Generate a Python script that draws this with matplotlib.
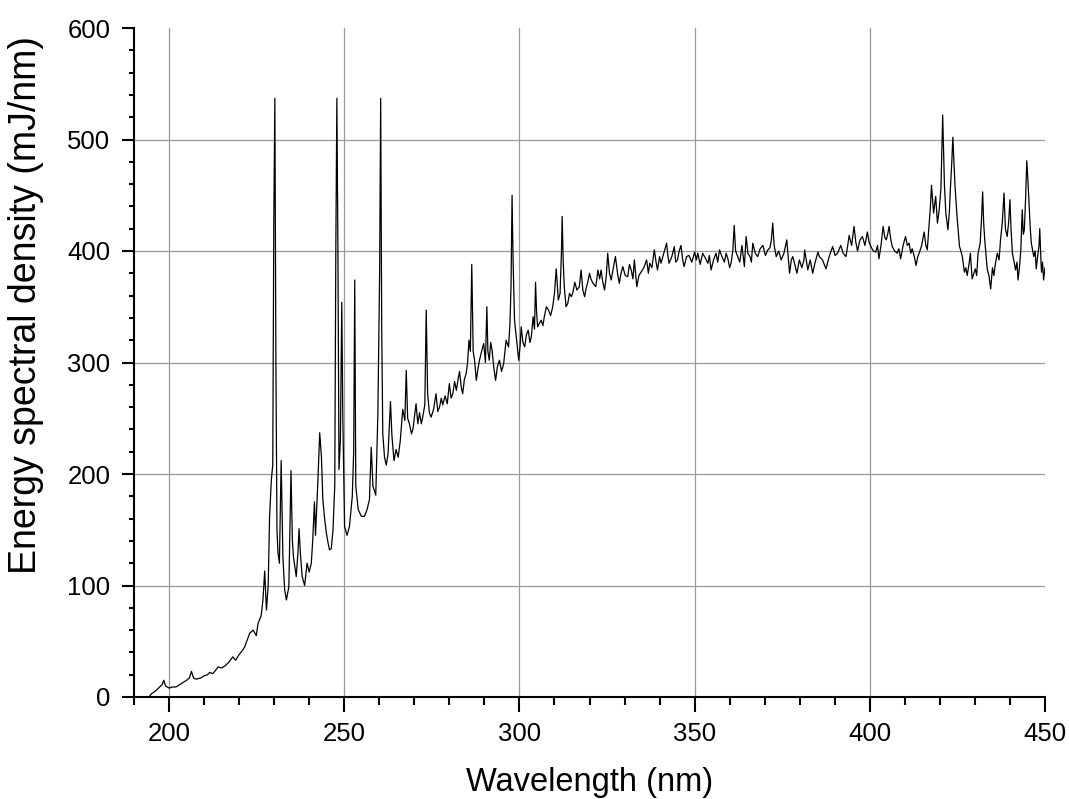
import matplotlib
matplotlib.use("Agg")
import matplotlib.pyplot as plt
from matplotlib.ticker import MultipleLocator

plt.rcParams['font.family'] = ['Liberation Sans', 'DejaVu Sans']

wavelength = [
    194.3, 195.0, 196.0, 197.0, 198.0, 198.5, 199.0, 200.0, 201.0, 202.0,
    203.0, 204.0, 205.0, 205.8, 206.4, 207.0, 207.8, 209.0, 210.0, 211.0,
    211.6, 212.5, 213.3, 214.0, 215.0, 216.0, 217.0, 218.2, 219.0, 220.0,
    221.0, 221.6, 222.3, 223.0, 224.0, 224.9, 225.4, 226.3, 226.8, 227.3,
    227.8, 228.3, 228.7, 229.2, 229.6, 229.9, 230.2, 230.5, 230.8, 231.1,
    231.5, 232.0, 232.5, 233.0, 233.5, 234.2, 234.8, 235.2, 235.5, 236.0,
    236.3, 236.8, 237.1, 237.5, 238.0, 238.7, 239.4, 240.0, 240.6, 241.0,
    241.5, 241.8, 242.5, 243.0, 243.5, 243.9, 244.4, 244.9, 245.4, 245.8,
    246.3, 246.8, 247.3, 247.6, 247.9, 248.2, 248.5, 248.9, 249.3, 249.6,
    250.1, 250.8, 251.5, 252.3, 252.7, 253.0, 253.3, 254.0, 254.9, 255.8,
    256.5, 257.2, 257.7, 258.2, 259.0, 259.6, 260.1, 260.4, 260.7, 261.0,
    261.5, 262.0, 262.5, 263.2, 263.6, 264.2, 264.8, 265.4, 266.0, 266.7,
    267.3, 267.7, 268.1, 268.6, 269.2, 269.6, 270.0, 270.5, 271.0, 271.5,
    272.0, 272.4, 273.0, 273.4, 273.8, 274.3, 274.8, 275.5, 276.2, 276.7,
    277.2, 277.7, 278.1, 278.8, 279.4, 280.0, 280.5, 281.0, 281.5, 282.0,
    282.5, 282.9, 283.4, 283.8, 284.3, 284.8, 285.2, 285.6, 286.0, 286.4,
    286.8, 287.2, 287.7, 288.2, 288.6, 289.2, 289.8, 290.3, 290.7, 291.0,
    291.4, 291.8, 292.2, 292.7, 293.2, 293.7, 294.3, 294.9, 295.5, 296.2,
    296.9, 297.3, 297.6, 297.9, 298.2, 298.6, 299.2, 299.8, 300.2, 300.5,
    301.0, 301.5, 302.0, 302.5, 303.0, 303.4, 303.9, 304.3, 304.6, 304.9,
    305.2, 305.7, 306.2, 306.7, 307.1, 307.7, 308.3, 308.9, 309.5, 310.0,
    310.5, 311.1, 311.6, 312.0, 312.2, 312.5, 312.8, 313.3, 313.8, 314.3,
    314.8, 315.2, 315.8, 316.4, 317.1, 317.6, 318.1, 318.6, 319.0, 319.5,
    320.0, 320.4, 321.0, 321.8, 322.4, 322.9, 323.3, 323.8, 324.3, 324.8,
    325.2, 325.7, 326.2, 326.8, 327.4, 328.0, 328.5, 329.0, 329.5, 330.2,
    330.9, 331.4, 331.9, 332.4, 332.8, 333.5, 334.1, 334.7, 335.5, 336.3,
    336.8, 337.2, 337.8, 338.5, 339.0, 339.4, 340.0, 340.4, 341.2, 342.0,
    342.4, 342.7, 343.5, 344.2, 344.6, 345.1, 345.6, 346.1, 346.6, 347.0,
    347.7, 348.4, 349.2, 350.0, 350.5, 350.9, 351.6, 352.3, 353.0, 353.8,
    354.2, 354.7, 355.4, 356.1, 356.6, 357.1, 357.8, 358.5, 359.0, 359.5,
    360.0, 360.4, 360.9, 361.3, 361.7, 362.3, 362.9, 363.5, 364.2, 364.7,
    365.2, 365.8, 366.2, 366.6, 367.3, 368.0, 368.7, 369.5, 370.2, 370.9,
    371.5, 371.9, 372.3, 372.7, 373.3, 374.0, 374.7, 375.5, 376.3, 376.7,
    377.1, 377.6, 378.0, 378.6, 379.2, 379.9, 380.6, 381.2, 381.4, 382.3,
    383.0, 383.7, 384.4, 385.2, 385.6, 386.5, 387.5, 388.4, 389.4, 390.1,
    390.8, 391.7, 392.4, 393.2, 393.7, 394.1, 394.8, 395.5, 396.0, 396.5,
    397.2, 397.9, 398.6, 399.3, 399.8, 400.3, 401.0, 401.7, 402.2, 402.6,
    403.2, 403.8, 404.3, 404.7, 405.1, 405.5, 406.0, 406.4, 407.1, 407.8,
    408.3, 408.8, 409.5, 410.2, 410.7, 411.2, 411.7, 412.1, 412.7, 413.2,
    413.7, 414.2, 414.8, 415.5, 416.0, 416.4, 416.9, 417.3, 417.6, 418.2,
    418.8, 419.3, 419.8, 420.3, 420.8, 421.3, 421.7, 422.3, 422.7, 423.0,
    423.4, 423.7, 424.3, 424.9, 425.6, 426.0, 426.4, 427.0, 427.4, 427.8,
    428.3, 428.7, 429.2, 429.7, 430.1, 430.5, 430.9, 431.5, 431.9, 432.2,
    432.5, 432.8, 433.2, 433.5, 434.0, 434.5, 435.0, 435.4, 435.9, 436.4,
    436.9, 437.3, 437.8, 438.3, 438.7, 439.2, 439.6, 440.0, 440.3, 440.7,
    441.2, 441.6, 442.0, 442.3, 442.7, 443.1, 443.5, 443.8, 444.1, 444.5,
    444.8, 445.1, 445.4, 445.8, 446.1, 446.5, 446.8, 447.2, 447.5, 448.0,
    448.3, 448.5, 448.8, 449.0, 449.3, 449.6, 450.0,
]

energy = [
    0, 3, 5, 8, 11, 15, 10, 8, 9, 9,
    11, 13, 15, 17, 23, 17, 16, 17, 19, 20,
    22, 21, 24, 27, 26, 28, 31, 36, 33, 38,
    42, 45, 51, 57, 60, 55, 66, 73, 87, 113,
    78, 100, 162, 195, 208, 426, 537, 300, 150, 129,
    120, 212, 125, 96, 87, 99, 203, 141, 126, 115,
    108, 130, 151, 128, 108, 100, 120, 112, 120, 140,
    175, 145, 195, 237, 215, 177, 160, 147, 138, 132,
    133, 150, 190, 401, 537, 400, 204, 230, 354, 250,
    153, 145, 153, 180, 220, 374, 189, 168, 162, 162,
    168, 177, 224, 189, 181, 254, 380, 537, 330, 236,
    215, 208, 218, 265, 235, 212, 222, 215, 230, 258,
    248, 293, 250, 245, 236, 240, 250, 263, 245, 255,
    245, 251, 262, 347, 272, 255, 251, 258, 272, 256,
    260, 268, 262, 270, 263, 281, 268, 272, 283, 275,
    285, 292, 278, 272, 285, 290, 300, 320, 310, 388,
    310, 302, 284, 295, 302, 310, 317, 300, 350, 310,
    302, 318, 311, 295, 284, 296, 302, 292, 299, 320,
    314, 335, 368, 450, 390, 338, 320, 302, 315, 332,
    318, 314, 325, 329, 318, 323, 341, 330, 372, 345,
    332, 335, 338, 333, 341, 350, 347, 342, 350, 362,
    384, 356, 362, 400, 431, 390, 368, 350, 353, 362,
    359, 362, 372, 365, 368, 383, 365, 359, 366, 372,
    380, 375, 371, 368, 383, 375, 383, 372, 365, 378,
    398, 380, 374, 385, 395, 380, 371, 380, 386, 378,
    377, 388, 383, 375, 392, 368, 378, 381, 385, 392,
    380, 389, 385, 401, 390, 383, 395, 389, 398, 407,
    395, 389, 395, 404, 390, 392, 400, 405, 392, 386,
    395, 396, 390, 399, 392, 398, 388, 398, 394, 389,
    396, 383, 392, 398, 390, 401, 395, 390, 398, 393,
    385, 389, 400, 423, 400, 395, 390, 405, 386, 413,
    398, 395, 390, 407, 398, 395, 402, 405, 396, 401,
    403, 410, 425, 405, 395, 400, 392, 398, 410, 395,
    380, 392, 395, 388, 380, 392, 385, 392, 401, 383,
    392, 380, 390, 399, 395, 392, 384, 395, 404, 396,
    398, 405, 398, 395, 405, 414, 405, 422, 408, 400,
    410, 413, 405, 417, 408, 404, 400, 399, 405, 393,
    405, 422, 412, 410, 415, 422, 410, 404, 400, 398,
    402, 393, 405, 413, 405, 407, 398, 402, 395, 387,
    395, 399, 405, 417, 405, 401, 422, 440, 459, 434,
    449, 425, 437, 456, 522, 459, 434, 419, 435, 456,
    480, 502, 459, 431, 404, 400, 395, 381, 385, 378,
    388, 398, 375, 380, 384, 378, 398, 407, 430, 453,
    425, 410, 395, 384, 378, 366, 385, 378, 390, 398,
    392, 410, 425, 452, 420, 413, 425, 446, 420, 398,
    390, 383, 390, 374, 385, 401, 437, 415, 419, 450,
    481, 465, 446, 420, 407, 400, 395, 400, 384, 398,
    405, 420, 395, 381, 390, 374, 385,
]

x_major = [200, 250, 300, 350, 400, 450]
y_major = [0, 100, 200, 300, 400, 500, 600]
x_grid = [200, 250, 300, 350, 400]
y_grid = [100, 200, 300, 400, 500]

fig = plt.figure(figsize=(10.69, 7.99), dpi=100)
ax = fig.add_axes([134 / 1069, 1 - 697 / 799, (1045 - 134) / 1069, (697 - 28) / 799])

for gx in x_grid:
    ax.axvline(gx, color='#999999', lw=0.9, zorder=0)
for gy in y_grid:
    ax.axhline(gy, color='#999999', lw=0.9, zorder=0)

ax.plot(wavelength, energy, color='black', lw=0.9, zorder=2)

ax.set_xlim(190, 450)
ax.set_ylim(0, 600)
ax.set_xticks(x_major)
ax.set_yticks(y_major)
ax.xaxis.set_minor_locator(MultipleLocator(10))
ax.yaxis.set_minor_locator(MultipleLocator(20))

for side in ['top', 'right']:
    ax.spines[side].set_visible(False)
for side in ['left', 'bottom']:
    ax.spines[side].set_linewidth(1.5)

ax.tick_params(axis='x', which='major', direction='out', length=11, width=1.5,
               labelsize=18.5, pad=7)
ax.tick_params(axis='x', which='minor', direction='out', length=6, width=1.5)
ax.tick_params(axis='y', which='major', direction='out', length=9, width=1.5,
               labelsize=18.5, pad=8)
ax.tick_params(axis='y', which='minor', direction='out', length=3.6, width=1.5)

fig.text(589.5 / 1069, 8 / 799, 'Wavelength (nm)', ha='center', va='baseline',
         fontsize=23.5)
fig.text(26 / 1069, 1 - 305 / 799, 'Energy spectral density (mJ/nm)', ha='center',
         va='center', rotation=90, fontsize=27)

fig.savefig('out.png', dpi=100)
